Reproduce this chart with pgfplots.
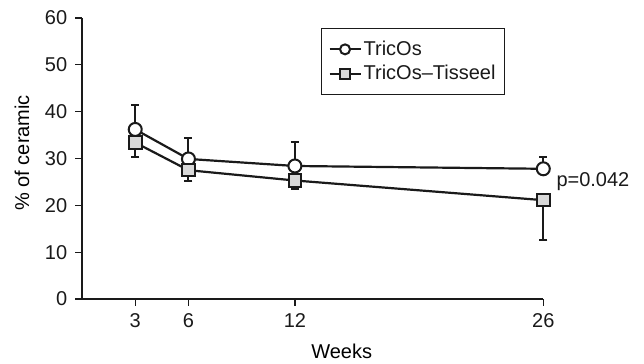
\documentclass[border=0pt]{standalone}
\usepackage{pgfplots}
\pgfplotsset{compat=1.18}
\usepackage{fontspec}
\setmainfont{Liberation Sans}
\definecolor{ink}{HTML}{1A1A1A}
\definecolor{sqfill}{HTML}{D9D9D9}
\begin{document}
\fontsize{20}{24}\selectfont
\begin{tikzpicture}
\begin{axis}[
  scale only axis,
  width=461.3pt, height=281pt,
  xmin=0, xmax=26, ymin=0, ymax=60,
  axis x line*=bottom, axis y line*=left,
  axis line style={ink, line width=1.3pt},
  xtick={3,6,12,26}, ytick={0,10,...,60},
  tick align=outside, major tick length=7pt,
  tick style={ink, line width=1.3pt},
  /pgf/number format/assume math mode=true,
  ticklabel style={font=\fontsize{20}{24}\selectfont, text=ink},
  xticklabel style={yshift=-1pt},
  yticklabel style={xshift=-1pt},
  xlabel={Weeks}, ylabel={\% of ceramic},
  label style={font=\fontsize{20}{24}\selectfont, text=ink},
  every axis x label/.style={at={(ticklabel cs:0.563)}, anchor=near ticklabel, yshift=-2pt},
  every axis y label/.style={at={(ticklabel cs:0.52)}, rotate=90, anchor=near ticklabel, yshift=2pt},
  clip=false,
  legend style={at={(rel axis cs:0.518,0.964)}, anchor=north west,
    draw=ink, line width=1pt, font=\fontsize{20}{24}\selectfont, text=ink,
    inner xsep=7pt, inner ysep=10pt, row sep=3pt, cells={anchor=west}},
  legend image code/.code={\draw[#1, mark size=5pt, mark repeat=2, mark phase=2] plot coordinates {(0pt,0pt) (15.5pt,0pt) (31pt,0pt)};},
]
% error bars (one-sided)
\addplot[forget plot, draw=none, ink, error bars/.cd, y dir=plus, y explicit,
  error bar style={line width=2pt, ink}, error mark options={rotate=90, line width=2pt, mark size=4pt, ink}]
  coordinates {(3,36.2) +- (0,5.2) (6,29.9) +- (0,4.5) (12,28.4) +- (0,5.1) (26,27.8) +- (0,2.5)};
\addplot[forget plot, draw=none, ink, error bars/.cd, y dir=minus, y explicit,
  error bar style={line width=2pt, ink}, error mark options={rotate=90, line width=2pt, mark size=4pt, ink}]
  coordinates {(3,33.4) +- (0,3.0) (6,27.5) +- (0,2.2) (12,25.3) +- (0,1.9) (26,21.1) +- (0,8.5)};
% series
\addplot[ink, line width=2.2pt, mark=*, mark size=6.5pt,
  mark options={line width=2pt, fill=white, draw=ink, solid}]
  coordinates {(3,36.2) (6,29.9) (12,28.4) (26,27.8)};
\addlegendentry{TricOs}
\addplot[ink, line width=2.2pt, mark=square*, mark size=6.3pt,
  mark options={line width=2pt, fill=sqfill, draw=ink, solid}]
  coordinates {(3,33.4) (6,27.5) (12,25.3) (26,21.1)};
\addlegendentry{TricOs--Tisseel}
\node[anchor=west, inner sep=0pt, text=ink, font=\fontsize{20}{24}\selectfont] at (axis cs:26,25) [xshift=13pt] {p=0.042};
\coordinate (bbl) at (rel axis cs:-0.17776,-0.23132);
\coordinate (btr) at (rel axis cs:1.21830,1.06406);
\end{axis}
\pgfresetboundingbox
\path (bbl) rectangle (btr);
\end{tikzpicture}
\end{document}
